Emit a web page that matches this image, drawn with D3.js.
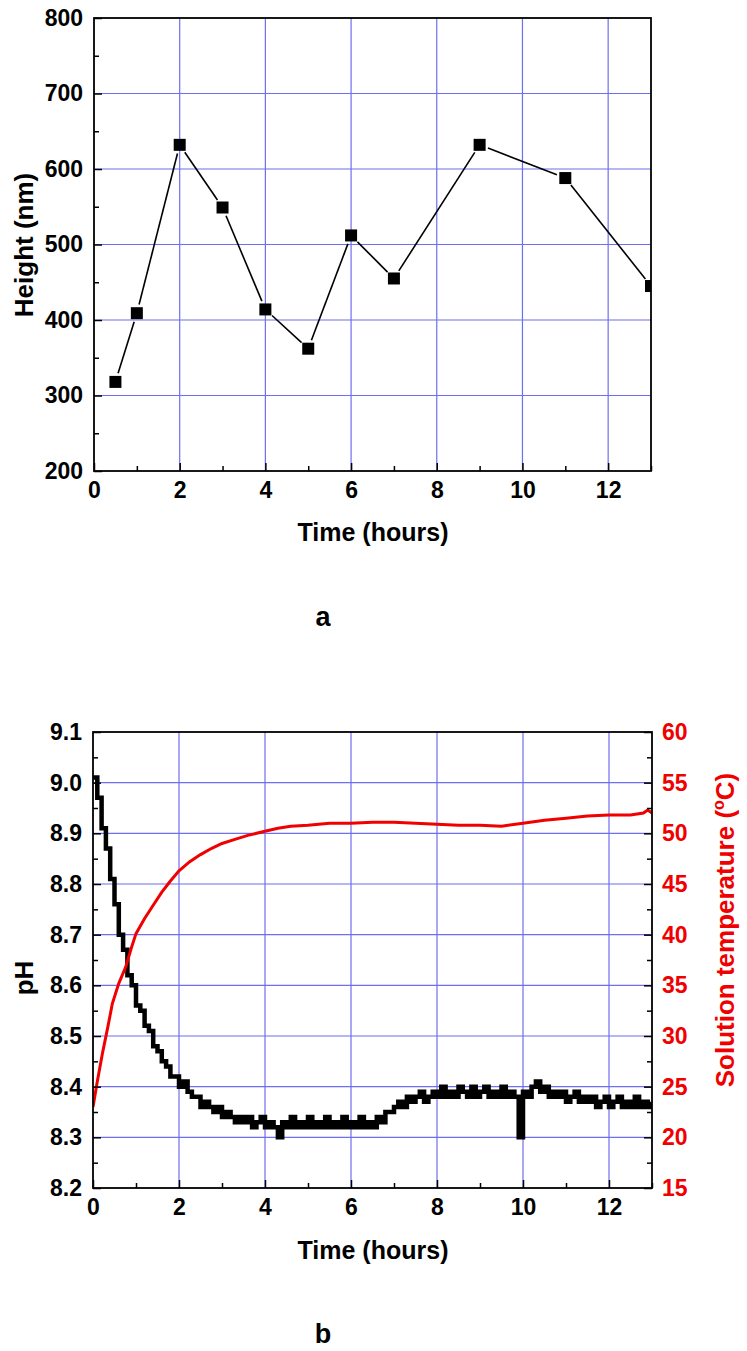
<!DOCTYPE html>
<html>
<head>
<meta charset="utf-8">
<script src="https://cdn.jsdelivr.net/npm/d3@7"></script>
<style>
  body { margin: 0; background: #fff; }
  svg text { font-family: "Liberation Sans", Arial, sans-serif; font-weight: bold; }
</style>
</head>
<body>
<div id="chart"></div>
<script>
// panel a: height vs time
const heightTime = [0.5, 1, 2, 3, 4, 5, 6, 7, 9, 11, 13];
const heightNm = [318, 409, 632, 549, 414, 362, 512, 455, 632, 588, 445];

// panel b: pH sampled every 0.1 h from 0 to 13 h
const pHStepHours = 0.1;
const pHValues = [
  9.01, 8.97, 8.91, 8.87, 8.81, 8.76, 8.70, 8.67, 8.62, 8.60,
  8.56, 8.55, 8.52, 8.51, 8.48, 8.47, 8.45, 8.44, 8.42, 8.42,
  8.40, 8.41, 8.39, 8.38, 8.38, 8.36, 8.37, 8.36, 8.35, 8.36,
  8.34, 8.35, 8.34, 8.33, 8.34, 8.33, 8.34, 8.32, 8.33, 8.34,
  8.32, 8.33, 8.32, 8.30, 8.33, 8.32, 8.34, 8.32, 8.33, 8.32,
  8.34, 8.32, 8.33, 8.32, 8.34, 8.32, 8.33, 8.32, 8.34, 8.32,
  8.33, 8.32, 8.34, 8.32, 8.33, 8.32, 8.34, 8.33, 8.35, 8.35,
  8.36, 8.37, 8.36, 8.38, 8.37, 8.38, 8.39, 8.37, 8.38, 8.39,
  8.38, 8.40, 8.38, 8.39, 8.38, 8.40, 8.39, 8.38, 8.40, 8.38,
  8.39, 8.40, 8.38, 8.39, 8.38, 8.40, 8.38, 8.39, 8.38, 8.30,
  8.39, 8.38, 8.40, 8.41, 8.39, 8.40, 8.38, 8.39, 8.38, 8.39,
  8.37, 8.38, 8.39, 8.37, 8.38, 8.37, 8.38, 8.36, 8.37, 8.38,
  8.36, 8.37, 8.38, 8.36, 8.37, 8.36, 8.38, 8.36, 8.37, 8.36,
  8.37
];

// panel b: solution temperature (time h, degC)
const tempTime = [0, 0.1, 0.22, 0.35, 0.45, 0.6, 0.76, 0.9, 1.0, 1.2, 1.4, 1.6, 1.8, 2.0, 2.25, 2.5, 2.75, 3.0, 3.3, 3.6,
  4.0, 4.3, 4.6, 5.0, 5.5, 6.0, 6.5, 7.0, 7.5, 8.0, 8.5, 9.0, 9.5, 10.0, 10.5, 11.0, 11.5, 12.0, 12.5, 12.8, 12.9, 13.0];
const tempC = [23.0, 25.5, 28.3, 31.0, 33.2, 35.2, 36.8, 38.8, 40.1, 41.6, 42.9, 44.2, 45.3, 46.3, 47.2, 47.9, 48.5, 49.0, 49.4, 49.8,
  50.2, 50.5, 50.7, 50.8, 51.0, 51.0, 51.1, 51.1, 51.0, 50.9, 50.8, 50.8, 50.7, 51.0, 51.3, 51.5, 51.7, 51.8, 51.8, 52.0, 52.3, 52.0];

const timeTicks = [0, 2, 4, 6, 8, 10, 12];
const timeMinor = [1, 3, 5, 7, 9, 11, 13];
const heightTicks = [200, 300, 400, 500, 600, 700, 800];
const heightMinor = [250, 350, 450, 550, 650, 750];
const pHTicks = [8.2, 8.3, 8.4, 8.5, 8.6, 8.7, 8.8, 8.9, 9.0, 9.1];
const pHMinor = [8.25, 8.35, 8.45, 8.55, 8.65, 8.75, 8.85, 8.95, 9.05];
const tempTicks = [15, 20, 25, 30, 35, 40, 45, 50, 55, 60];
const tempMinor = [17.5, 22.5, 27.5, 32.5, 37.5, 42.5, 47.5, 52.5, 57.5];

const W = 747, H = 1351;
const gridColor = "#6e6ef0";
const red = "#f00000";

const svg = d3.select("#chart").append("svg")
  .attr("width", W).attr("height", H);

function grid(g, x, y, xVals, yVals) {
  g.selectAll(".gx").data(xVals).enter().append("line")
    .attr("x1", d => x(d)).attr("x2", d => x(d))
    .attr("y1", y.range()[0]).attr("y2", y.range()[1])
    .attr("stroke", gridColor).attr("stroke-width", 1.2);
  g.selectAll(".gy").data(yVals).enter().append("line")
    .attr("y1", d => y(d)).attr("y2", d => y(d))
    .attr("x1", x.range()[0]).attr("x2", x.range()[1])
    .attr("stroke", gridColor).attr("stroke-width", 1.2);
}

function styleAxis(g, size, color) {
  g.select(".domain").remove();
  g.selectAll(".tick line").attr("stroke", "#000").attr("stroke-width", 1.5);
  g.selectAll("text").style("font-size", size + "px").attr("fill", color || "#000");
}

function frame(g, x, y) {
  g.append("rect")
    .attr("x", x.range()[0]).attr("y", y.range()[1])
    .attr("width", x.range()[1] - x.range()[0])
    .attr("height", y.range()[0] - y.range()[1])
    .attr("fill", "none").attr("stroke", "#000").attr("stroke-width", 1.8);
}

// ---------- panel a ----------
const xa = d3.scaleLinear().domain([0, 13]).range([94, 651]);
const ya = d3.scaleLinear().domain([200, 800]).range([471, 18]);
const ga = svg.append("g");

grid(ga, xa, ya, timeTicks.filter(d => d > 0), heightTicks.filter(d => d > 200 && d < 800));

ga.append("clipPath").attr("id", "clipA").append("rect")
  .attr("x", 94).attr("y", 18).attr("width", 557).attr("height", 453);

// connecting segments stop short of the markers
const ptsA = heightTime.map((t, i) => [xa(t), ya(heightNm[i])]);
const segs = d3.pairs(ptsA).map(([a, b]) => {
  const dx = b[0] - a[0], dy = b[1] - a[1], len = Math.hypot(dx, dy), gap = 9;
  return [a[0] + dx / len * gap, a[1] + dy / len * gap, b[0] - dx / len * gap, b[1] - dy / len * gap];
});
ga.append("g").attr("clip-path", "url(#clipA)")
  .selectAll("line").data(segs).enter().append("line")
  .attr("x1", d => d[0]).attr("y1", d => d[1])
  .attr("x2", d => d[2]).attr("y2", d => d[3])
  .attr("stroke", "#000").attr("stroke-width", 1.6);

ga.append("g").attr("clip-path", "url(#clipA)")
  .selectAll("rect").data(heightTime).enter().append("rect")
  .attr("x", d => xa(d) - 6)
  .attr("y", (d, i) => ya(heightNm[i]) - 6)
  .attr("width", 12).attr("height", 12)
  .attr("fill", "#000");

ga.append("g").attr("transform", "translate(0,471)")
  .call(d3.axisBottom(xa).tickValues(timeTicks).tickSizeInner(-8).tickSizeOuter(0).tickPadding(11))
  .call(g => styleAxis(g, 23));
ga.append("g").attr("transform", "translate(0,471)")
  .call(d3.axisBottom(xa).tickValues(timeMinor).tickSizeInner(-5).tickSizeOuter(0).tickFormat(""))
  .call(g => styleAxis(g, 23));
ga.append("g").attr("transform", "translate(94,0)")
  .call(d3.axisLeft(ya).tickValues(heightTicks).tickSizeInner(-8).tickSizeOuter(0).tickPadding(11))
  .call(g => styleAxis(g, 23));
ga.append("g").attr("transform", "translate(94,0)")
  .call(d3.axisLeft(ya).tickValues(heightMinor).tickSizeInner(-5).tickSizeOuter(0).tickFormat(""))
  .call(g => styleAxis(g, 23));
frame(ga, xa, ya);

ga.append("text").attr("x", 373).attr("y", 541).attr("text-anchor", "middle")
  .style("font-size", "25px").text("Time (hours)");
ga.append("text").attr("transform", "translate(33,245) rotate(-90)").attr("text-anchor", "middle")
  .style("font-size", "26px").text("Height (nm)");
ga.append("text").attr("x", 323).attr("y", 626).attr("text-anchor", "middle")
  .style("font-size", "27px").text("a");

// ---------- panel b ----------
const xb = d3.scaleLinear().domain([0, 13]).range([93, 652]);
const yb = d3.scaleLinear().domain([8.2, 9.1]).range([1188, 732]);
const yt = d3.scaleLinear().domain([15, 60]).range([1188, 732]);
const gb = svg.append("g");

grid(gb, xb, yb, timeTicks.filter(d => d > 0), pHTicks.filter(d => d > 8.2 && d < 9.1));

gb.append("clipPath").attr("id", "clipB").append("rect")
  .attr("x", 93).attr("y", 732).attr("width", 559).attr("height", 456);

// pH meter readings are quantised, so draw them as steps
const pHLine = d3.line()
  .x((d, i) => xb(i * pHStepHours))
  .y(d => yb(d))
  .curve(d3.curveStepAfter);
gb.append("path").datum(pHValues)
  .attr("clip-path", "url(#clipB)")
  .attr("d", pHLine)
  .attr("fill", "none").attr("stroke", "#000").attr("stroke-width", 4.5);

const tLine = d3.line()
  .x(d => xb(d))
  .y((d, i) => yt(tempC[i]));
gb.append("path").datum(tempTime)
  .attr("clip-path", "url(#clipB)")
  .attr("d", tLine)
  .attr("fill", "none").attr("stroke", red).attr("stroke-width", 3);

gb.append("g").attr("transform", "translate(0,1188)")
  .call(d3.axisBottom(xb).tickValues(timeTicks).tickSizeInner(-8).tickSizeOuter(0).tickPadding(11))
  .call(g => styleAxis(g, 23));
gb.append("g").attr("transform", "translate(0,1188)")
  .call(d3.axisBottom(xb).tickValues(timeMinor).tickSizeInner(-5).tickSizeOuter(0).tickFormat(""))
  .call(g => styleAxis(g, 23));
gb.append("g").attr("transform", "translate(93,0)")
  .call(d3.axisLeft(yb).tickValues(pHTicks).tickSizeInner(-8).tickSizeOuter(0).tickPadding(11).tickFormat(d3.format(".1f")))
  .call(g => styleAxis(g, 23));
gb.append("g").attr("transform", "translate(93,0)")
  .call(d3.axisLeft(yb).tickValues(pHMinor).tickSizeInner(-5).tickSizeOuter(0).tickFormat(""))
  .call(g => styleAxis(g, 23));
gb.append("g").attr("transform", "translate(652,0)")
  .call(d3.axisRight(yt).tickValues(tempTicks).tickSizeInner(-8).tickSizeOuter(0).tickPadding(10))
  .call(g => styleAxis(g, 23, red));
gb.append("g").attr("transform", "translate(652,0)")
  .call(d3.axisRight(yt).tickValues(tempMinor).tickSizeInner(-5).tickSizeOuter(0).tickFormat(""))
  .call(g => styleAxis(g, 23, red));
frame(gb, xb, yb);

gb.append("text").attr("x", 373).attr("y", 1259).attr("text-anchor", "middle")
  .style("font-size", "25px").text("Time (hours)");
gb.append("text").attr("transform", "translate(33,978) rotate(-90)").attr("text-anchor", "middle")
  .style("font-size", "26px").text("pH");
const tt = gb.append("text").attr("transform", "translate(734,930) rotate(-90)").attr("text-anchor", "middle")
  .style("font-size", "26px").attr("fill", red);
tt.append("tspan").text("Solution temperature (");
tt.append("tspan").attr("dy", -10).style("font-size", "16px").text("o");
tt.append("tspan").attr("dy", 10).text("C)");
gb.append("text").attr("x", 323).attr("y", 1343).attr("text-anchor", "middle")
  .style("font-size", "27px").text("b");
</script>
</body>
</html>
